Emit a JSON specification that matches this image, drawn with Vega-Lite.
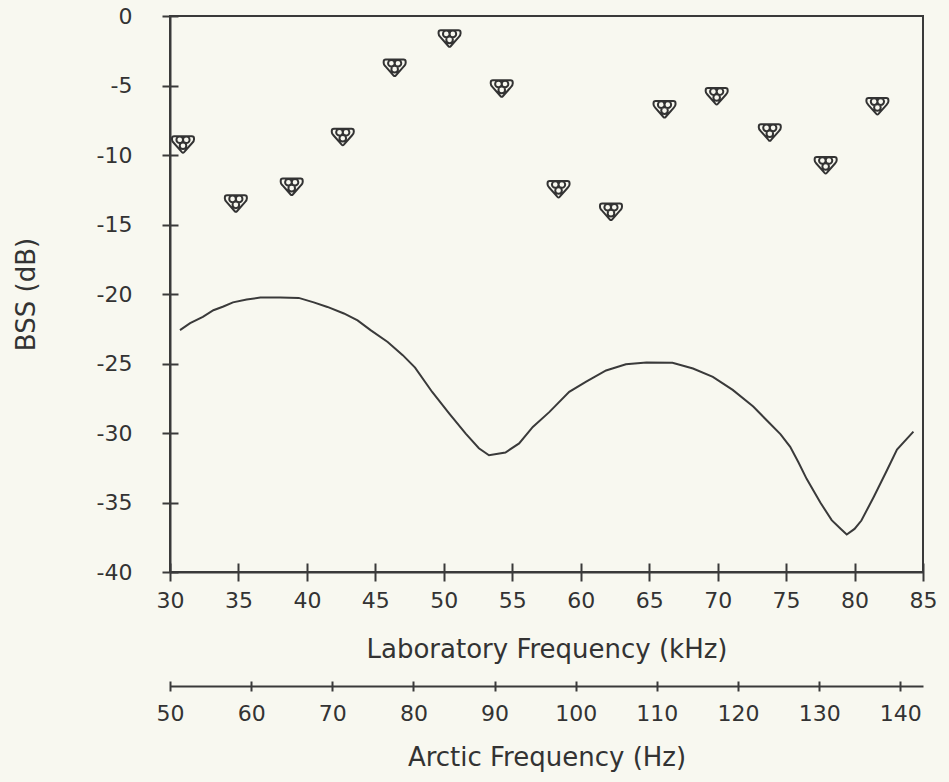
{
  "$schema": "https://vega.github.io/schema/vega-lite/v6.json",
  "width": 753,
  "height": 556,
  "autosize": {"type": "none"},
  "padding": {"left": 170, "top": 16, "right": 26, "bottom": 210},
  "background": "#f8f8f0",
  "config": {
    "font": "DejaVu Sans",
    "view": {"stroke": "#3a3a3a", "strokeWidth": 2},
    "axis": {
      "grid": false,
      "domainColor": "#3a3a3a",
      "domainWidth": 2,
      "tickColor": "#3a3a3a",
      "tickWidth": 2,
      "labelColor": "#333333",
      "labelFontSize": 22,
      "titleColor": "#333333",
      "titleFontSize": 26,
      "titleFontWeight": "normal",
      "labelFlush": false,
      "labelOverlap": false
    }
  },
  "datasets": {
    "curve": [
      {"lab": 30.73, "bss": -22.6},
      {"lab": 31.47, "bss": -22.1},
      {"lab": 32.4, "bss": -21.65},
      {"lab": 33.17, "bss": -21.17},
      {"lab": 33.9, "bss": -20.9},
      {"lab": 34.6, "bss": -20.6},
      {"lab": 35.6, "bss": -20.4},
      {"lab": 36.6, "bss": -20.25},
      {"lab": 38.05, "bss": -20.25},
      {"lab": 39.4, "bss": -20.28},
      {"lab": 40.5, "bss": -20.6},
      {"lab": 41.5, "bss": -20.93},
      {"lab": 42.7, "bss": -21.4},
      {"lab": 43.7, "bss": -21.9},
      {"lab": 44.65, "bss": -22.6},
      {"lab": 45.9, "bss": -23.45},
      {"lab": 47.0, "bss": -24.4},
      {"lab": 47.9, "bss": -25.3},
      {"lab": 49.15, "bss": -27.05},
      {"lab": 50.4, "bss": -28.6},
      {"lab": 51.6, "bss": -30.04},
      {"lab": 52.56, "bss": -31.1},
      {"lab": 53.3, "bss": -31.6},
      {"lab": 54.5, "bss": -31.4},
      {"lab": 55.5, "bss": -30.75},
      {"lab": 56.5, "bss": -29.56},
      {"lab": 57.7, "bss": -28.5},
      {"lab": 59.16, "bss": -27.04},
      {"lab": 60.4, "bss": -26.3},
      {"lab": 61.85, "bss": -25.5},
      {"lab": 63.3, "bss": -25.05},
      {"lab": 64.8, "bss": -24.93},
      {"lab": 66.7, "bss": -24.95},
      {"lab": 68.2, "bss": -25.36},
      {"lab": 69.65, "bss": -25.96},
      {"lab": 71.1, "bss": -26.9},
      {"lab": 72.6, "bss": -28.1},
      {"lab": 73.8, "bss": -29.3},
      {"lab": 74.6, "bss": -30.1},
      {"lab": 75.3, "bss": -31.0},
      {"lab": 75.9, "bss": -32.1},
      {"lab": 76.5, "bss": -33.3},
      {"lab": 77.5, "bss": -35.0},
      {"lab": 78.33, "bss": -36.27},
      {"lab": 79.0, "bss": -36.9},
      {"lab": 79.43, "bss": -37.3},
      {"lab": 80.0, "bss": -36.9},
      {"lab": 80.5, "bss": -36.3},
      {"lab": 81.4, "bss": -34.6},
      {"lab": 82.36, "bss": -32.7},
      {"lab": 83.1, "bss": -31.2},
      {"lab": 84.3, "bss": -29.9}
    ],
    "markers": [
      {"lab": 30.95, "bss": -9.24},
      {"lab": 34.81, "bss": -13.49},
      {"lab": 38.89, "bss": -12.29},
      {"lab": 42.62, "bss": -8.7},
      {"lab": 46.41, "bss": -3.73},
      {"lab": 50.42, "bss": -1.62},
      {"lab": 54.23, "bss": -5.22},
      {"lab": 58.38, "bss": -12.46},
      {"lab": 62.21, "bss": -14.09},
      {"lab": 66.12, "bss": -6.71},
      {"lab": 69.93, "bss": -5.77},
      {"lab": 73.81, "bss": -8.38},
      {"lab": 77.89, "bss": -10.73},
      {"lab": 81.67, "bss": -6.49}
    ],
    "arctic": [
      {"arctic": 50},
      {"arctic": 142.8}
    ]
  },
  "layer": [
    {
      "encoding": {
        "x": {
          "field": "lab",
          "type": "quantitative",
          "scale": {"domain": [30, 85], "nice": false, "zero": false},
          "axis": {
            "orient": "bottom",
            "values": [30, 35, 40, 45, 50, 55, 60, 65, 70, 75, 80, 85],
            "tickSize": 9,
            "labelPadding": 9,
            "title": "Laboratory Frequency (kHz)",
            "titlePadding": 25,
            "encoding": {"ticks": {"y": {"value": -9}}}
          }
        },
        "y": {
          "field": "bss",
          "type": "quantitative",
          "scale": {"domain": [-40, 0], "nice": false, "zero": false},
          "axis": {
            "values": [-40, -35, -30, -25, -20, -15, -10, -5, 0],
            "labelExpr": "'' + datum.value",
            "tickSize": 8,
            "labelPadding": 30,
            "title": "BSS (dB)",
            "titlePadding": 57,
            "encoding": {"ticks": {"x": {"value": 8}}}
          }
        }
      },
      "layer": [
        {
          "data": {"name": "curve"},
          "mark": {"type": "line", "color": "#3a3a3a", "strokeWidth": 2}
        },
        {
          "data": {"name": "markers"},
          "mark": {
            "type": "point",
            "shape": "M-0.8,-0.75 L0.8,-0.75 Q1,-0.75 1,-0.55 L1,-0.45 Q1,-0.3 0.85,-0.15 L0.1,0.7 Q0,0.8 -0.1,0.7 L-0.85,-0.15 Q-1,-0.3 -1,-0.45 L-1,-0.55 Q-1,-0.75 -0.8,-0.75 Z M0,-0.42 A0.3,0.3 0 1,1 -0.6,-0.42 A0.3,0.3 0 1,1 0,-0.42 Z M0.6,-0.42 A0.3,0.3 0 1,1 0,-0.42 A0.3,0.3 0 1,1 0.6,-0.42 Z M0.3,0.12 A0.3,0.3 0 1,1 -0.3,0.12 A0.3,0.3 0 1,1 0.3,0.12 Z",
            "size": 484,
            "filled": false,
            "stroke": "#333333",
            "strokeWidth": 2,
            "opacity": 1
          }
        }
      ]
    },
    {
      "data": {"name": "arctic"},
      "mark": {"type": "point", "opacity": 0},
      "encoding": {
        "x": {
          "field": "arctic",
          "type": "quantitative",
          "scale": {"domain": [50, 142.8], "nice": false, "zero": false},
          "axis": {
            "orient": "bottom",
            "offset": 114,
            "values": [50, 60, 70, 80, 90, 100, 110, 120, 130, 140],
            "tickSize": 5,
            "labelPadding": 12,
            "title": "Arctic Frequency (Hz)",
            "titlePadding": 20,
            "encoding": {"ticks": {"y": {"value": -5}}}
          }
        }
      }
    }
  ],
  "resolve": {"scale": {"x": "independent"}}
}
